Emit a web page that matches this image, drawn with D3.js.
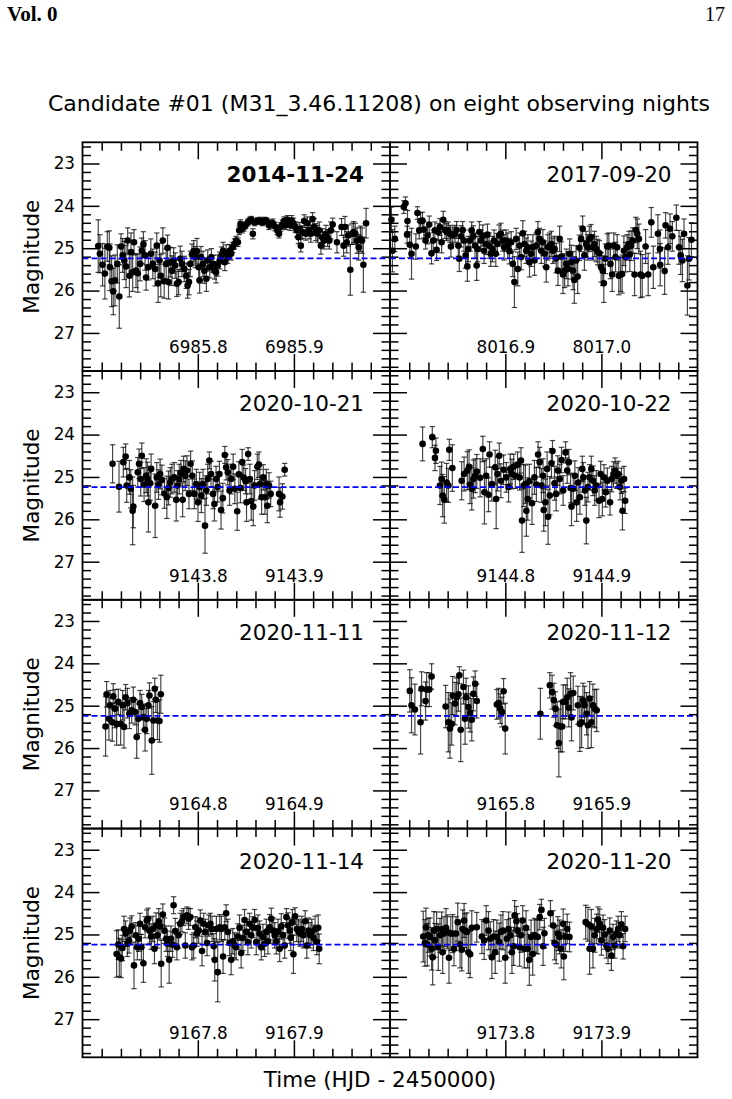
<!DOCTYPE html>
<html>
<head>
<meta charset="utf-8">
<script src="https://cdn.jsdelivr.net/npm/d3@7"></script>
<style>
  html, body { margin: 0; padding: 0; background: #fff; }
  svg { display: block; font-family: "DejaVu Sans", sans-serif; }
</style>
</head>
<body>
<script>
// Candidate #01 light curves — eight nights, 2 x 4 grid of panels.
// Each night: [days after the night's base HJD-2450000, magnitude, error]

const nightBase   = [6985, 8016, 9143, 9144, 9164, 9165, 9167, 9173];
const nightLabels = ["2014-11-24", "2017-09-20", "2020-10-21", "2020-10-22",
                     "2020-11-11", "2020-11-12", "2020-11-14", "2020-11-20"];
const nightStart  = [6985.68, 8016.78, 9143.68, 9144.68, 9164.68, 9165.68, 9167.68, 9173.68];
const nightMajor  = [[6985.8, 6985.9], [8016.9, 8017.0], [9143.8, 9143.9], [9144.8, 9144.9],
                     [9164.8, 9164.9], [9165.8, 9165.9], [9167.8, 9167.9], [9173.8, 9173.9]];
const highlightNight = 0;
const meanMag   = 25.24;
const magRange  = [22.5, 27.9];
const magMajor  = [23, 24, 25, 26, 27];
const daySpan   = 0.32;

const night1 = [
  [0.6964,24.95,0.62],[0.6981,25.13,0.45],[0.7009,25.39,0.5],[0.7033,25.60,0.6],[0.7058,24.96,0.35],[0.7079,24.99,0.4],
  [0.7086,25.45,0.55],[0.7103,25.78,0.6],[0.7120,26.02,0.55],[0.7138,25.76,0.6],[0.7162,25.37,0.45],[0.7183,26.14,0.75],
  [0.7201,24.96,0.3],[0.7218,25.17,0.4],[0.7235,25.29,0.45],[0.7253,25.43,0.5],[0.7270,24.82,0.3],[0.7288,25.65,0.5],
  [0.7305,25.09,0.45],[0.7322,25.57,0.45],[0.7336,24.86,0.3],[0.7357,25.53,0.4],[0.7375,25.59,0.45],[0.7399,25.37,0.4],
  [0.7417,25.06,0.3],[0.7434,24.91,0.3],[0.7451,25.17,0.35],[0.7462,25.69,0.3],[0.7486,25.45,0.3],[0.7511,25.13,0.35],
  [0.7532,25.37,0.35],[0.7556,25.49,0.4],[0.7573,24.94,0.3],[0.7587,25.83,0.45],[0.7601,25.29,0.4],[0.7615,25.65,0.5],
  [0.7636,24.82,0.3],[0.7650,25.78,0.4],[0.7671,25.37,0.35],[0.7685,24.99,0.3],[0.7695,25.80,0.4],[0.7713,25.33,0.35],
  [0.7730,25.53,0.35],[0.7748,25.29,0.3],[0.7765,25.41,0.3],[0.7782,25.84,0.3],[0.7800,25.80,0.3],[0.7817,25.25,0.3],
  [0.7835,25.37,0.3],[0.7859,25.49,0.3],[0.7880,25.65,0.3],[0.7894,25.88,0.3],[0.7908,25.80,0.3],[0.7922,25.37,0.3],
  [0.7939,25.15,0.25],[0.7957,25.07,0.25],[0.7974,25.21,0.25],[0.7991,25.07,0.3],[0.8009,25.45,0.3],[0.8019,25.76,0.3],
  [0.8033,25.21,0.25],[0.8054,25.37,0.3],[0.8068,25.53,0.3],[0.8089,25.72,0.3],[0.8103,25.29,0.25],[0.8124,25.45,0.25],
  [0.8141,25.21,0.2],[0.8159,25.37,0.2],[0.8173,25.53,0.2],[0.8190,25.57,0.25],[0.8207,25.41,0.25],[0.8228,25.29,0.2],
  [0.8246,25.17,0.2],[0.8263,25.06,0.2],[0.8281,25.33,0.2],[0.8295,25.12,0.2],[0.8312,25.21,0.15],[0.8330,25.06,0.15],
  [0.8347,25.13,0.15],[0.8364,24.98,0.12],[0.8382,24.90,0.12],[0.8399,24.82,0.1],[0.8417,24.86,0.1],[0.8431,24.58,0.1],
  [0.8444,24.43,0.1],[0.8462,24.54,0.1],[0.8479,24.50,0.1],[0.8497,24.46,0.08],[0.8521,24.39,0.08],[0.8542,24.35,0.08],
  [0.8556,24.33,0.08],[0.8573,24.66,0.12],[0.8591,24.39,0.08],[0.8619,24.36,0.08],[0.8646,24.35,0.08],[0.8671,24.39,0.08],
  [0.8695,24.35,0.08],[0.8716,24.36,0.08],[0.8740,24.46,0.1],[0.8758,24.43,0.1],[0.8782,24.41,0.1],[0.8803,24.49,0.1],
  [0.8828,24.58,0.1],[0.8845,24.66,0.1],[0.8862,24.50,0.1],[0.8880,24.44,0.1],[0.8897,24.36,0.1],[0.8915,24.46,0.1],
  [0.8932,24.33,0.1],[0.8960,24.46,0.12],[0.8977,24.35,0.12],[0.8995,24.41,0.12],[0.9012,24.50,0.12],[0.9030,24.58,0.15],
  [0.9047,24.74,0.15],[0.9061,24.54,0.15],[0.9072,24.94,0.15],[0.9089,24.62,0.15],[0.9107,24.36,0.15],[0.9124,24.66,0.15],
  [0.9141,24.41,0.15],[0.9159,24.58,0.2],[0.9176,24.66,0.2],[0.9194,24.31,0.15],[0.9211,24.50,0.2],[0.9228,24.62,0.2],
  [0.9246,24.66,0.2],[0.9263,24.58,0.2],[0.9281,24.94,0.2],[0.9298,24.74,0.2],[0.9315,24.82,0.2],[0.9333,24.66,0.2],
  [0.9350,24.76,0.2],[0.9368,24.82,0.2],[0.9385,24.58,0.2],[0.9403,24.44,0.15],[0.9448,24.86,0.25],[0.9496,24.50,0.2],
  [0.9517,24.94,0.25],[0.9531,24.50,0.25],[0.9549,24.86,0.25],[0.9566,24.70,0.25],[0.9587,25.51,0.6],[0.9605,24.66,0.25],
  [0.9622,24.62,0.25],[0.9639,24.66,0.25],[0.9657,24.82,0.3],[0.9674,24.98,0.3],[0.9692,24.78,0.3],[0.9709,24.82,0.3],
  [0.9723,25.39,0.65],[0.9751,24.41,0.35]
];

const night2 = [
  [0.7815,24.33,0.3],[0.7825,25.06,0.5],[0.7850,24.78,0.3],[0.7944,24.03,0.15],[0.7961,23.94,0.15],[0.7978,24.68,0.2],
  [0.7982,24.36,0.25],[0.8006,24.92,0.3],[0.8024,25.13,0.6],[0.8069,24.96,0.3],[0.8086,24.17,0.15],[0.8104,24.58,0.2],
  [0.8118,24.36,0.2],[0.8138,24.35,0.2],[0.8152,24.56,0.2],[0.8170,24.82,0.2],[0.8191,24.70,0.2],[0.8208,24.44,0.2],
  [0.8232,25.12,0.25],[0.8250,24.82,0.25],[0.8267,24.58,0.2],[0.8285,25.04,0.25],[0.8302,24.62,0.2],[0.8319,24.50,0.2],
  [0.8337,24.86,0.25],[0.8354,24.33,0.2],[0.8372,24.57,0.2],[0.8389,24.62,0.2],[0.8406,24.58,0.2],[0.8424,24.66,0.2],
  [0.8434,24.96,0.25],[0.8452,24.70,0.2],[0.8476,24.66,0.2],[0.8493,24.57,0.2],[0.8511,24.94,0.25],[0.8521,25.25,0.3],
  [0.8539,24.72,0.25],[0.8556,24.57,0.2],[0.8570,24.82,0.25],[0.8587,25.17,0.3],[0.8605,25.43,0.35],[0.8615,25.02,0.3],
  [0.8633,24.82,0.25],[0.8650,24.58,0.2],[0.8667,24.72,0.25],[0.8685,24.94,0.3],[0.8702,25.41,0.35],[0.8713,25.02,0.3],
  [0.8730,24.62,0.25],[0.8747,24.82,0.25],[0.8765,24.70,0.25],[0.8779,25.06,0.3],[0.8800,24.90,0.25],[0.8814,24.68,0.25],
  [0.8831,24.94,0.3],[0.8848,25.13,0.3],[0.8866,25.02,0.3],[0.8883,24.82,0.25],[0.8901,25.13,0.3],[0.8918,24.90,0.25],
  [0.8935,24.70,0.25],[0.8953,24.66,0.25],[0.8974,24.82,0.25],[0.8988,24.98,0.3],[0.9008,24.82,0.25],[0.9026,24.94,0.3],
  [0.9043,25.07,0.3],[0.9061,24.86,0.25],[0.9078,25.37,0.3],[0.9095,25.80,0.6],[0.9113,24.78,0.25],[0.9130,25.49,0.4],
  [0.9148,24.94,0.3],[0.9165,25.21,0.3],[0.9182,24.65,0.3],[0.9200,24.90,0.3],[0.9217,25.06,0.3],[0.9235,24.98,0.3],
  [0.9252,25.33,0.35],[0.9269,25.13,0.3],[0.9287,24.98,0.3],[0.9304,25.29,0.35],[0.9322,24.94,0.3],[0.9339,24.62,0.25],
  [0.9356,24.78,0.25],[0.9374,25.06,0.3],[0.9391,24.86,0.3],[0.9409,25.13,0.3],[0.9426,25.45,0.35],[0.9443,24.98,0.3],
  [0.9461,24.94,0.3],[0.9478,24.90,0.3],[0.9496,25.06,0.3],[0.9513,25.02,0.3],[0.9530,25.23,0.35],[0.9548,25.53,0.35],
  [0.9565,24.78,0.3],[0.9583,25.20,0.35],[0.9600,25.62,0.45],[0.9617,25.53,0.4],[0.9635,25.37,0.35],[0.9652,25.49,0.4],
  [0.9670,25.13,0.35],[0.9687,25.33,0.4],[0.9704,25.53,0.45],[0.9718,25.75,0.55],[0.9736,25.29,0.35],[0.9753,25.67,0.4],
  [0.9771,24.99,0.3],[0.9788,24.78,0.3],[0.9805,24.54,0.3],[0.9823,25.17,0.35],[0.9840,24.90,0.3],[0.9858,24.98,0.3],
  [0.9875,24.78,0.3],[0.9892,24.74,0.3],[0.9910,24.98,0.3],[0.9927,24.90,0.3],[0.9945,25.02,0.3],[0.9962,25.09,0.3],
  [0.9979,25.12,0.3],[0.9997,25.45,0.35],[1.0014,25.53,0.35],[1.0025,25.83,0.45],[1.0042,25.25,0.35],[1.0060,24.96,0.3],
  [1.0077,24.94,0.3],[1.0094,25.37,0.35],[1.0112,25.62,0.4],[1.0129,24.94,0.3],[1.0147,25.21,0.35],[1.0164,24.98,0.3],
  [1.0181,25.65,0.45],[1.0199,25.62,0.4],[1.0216,25.61,0.45],[1.0234,25.06,0.35],[1.0251,25.21,0.35],[1.0268,24.98,0.3],
  [1.0286,24.90,0.3],[1.0296,25.15,0.4],[1.0310,24.94,0.35],[1.0327,24.82,0.3],[1.0345,25.62,0.5],[1.0359,24.57,0.3],
  [1.0373,24.66,0.35],[1.0390,24.78,0.35],[1.0407,25.62,0.55],[1.0425,25.65,0.5],[1.0460,24.96,0.4],[1.0487,25.62,0.5],
  [1.0519,24.39,0.35],[1.0540,25.45,0.5],[1.0588,24.66,0.45],[1.0609,25.02,0.45],[1.0612,25.39,0.5],[1.0658,25.54,0.55],
  [1.0668,24.46,0.3],[1.0693,24.98,0.4],[1.0714,24.54,0.35],[1.0738,24.72,0.35],[1.0780,24.28,0.3],[1.0808,24.98,0.4],
  [1.0825,25.17,0.45],[1.0843,25.29,0.5],[1.0860,24.66,0.35],[1.0895,25.88,0.7],[1.0912,25.25,0.5],[1.0937,24.80,0.4]
];

const night3 = [
  [0.7113,24.69,0.45],[0.7180,25.23,0.6],[0.7225,24.65,0.35],[0.7249,24.52,0.3],[0.7260,25.20,0.4],[0.7288,25.01,0.4],
  [0.7302,25.28,0.45],[0.7322,25.80,0.8],[0.7329,25.70,0.5],[0.7375,24.89,0.35],[0.7389,24.69,0.35],[0.7406,25.05,0.4],
  [0.7417,24.50,0.3],[0.7441,25.18,0.4],[0.7462,24.97,0.4],[0.7476,25.05,0.4],[0.7486,25.60,0.7],[0.7504,25.15,0.4],
  [0.7514,24.81,0.35],[0.7556,25.68,0.75],[0.7573,25.01,0.35],[0.7591,25.18,0.35],[0.7608,24.93,0.35],[0.7626,25.07,0.35],
  [0.7653,25.39,0.35],[0.7678,25.48,0.5],[0.7695,25.26,0.4],[0.7713,25.13,0.35],[0.7730,25.05,0.35],[0.7754,25.01,0.35],
  [0.7775,25.54,0.5],[0.7789,25.20,0.35],[0.7807,25.05,0.35],[0.7824,24.91,0.3],[0.7842,25.54,0.4],[0.7852,24.81,0.3],
  [0.7870,24.97,0.35],[0.7887,24.85,0.35],[0.7908,25.40,0.35],[0.7925,24.69,0.3],[0.7943,24.97,0.35],[0.7964,25.40,0.35],
  [0.7985,25.17,0.35],[0.8002,25.60,0.45],[0.8019,25.24,0.35],[0.8037,25.44,0.4],[0.8054,25.17,0.35],[0.8075,26.15,0.65],
  [0.8089,25.32,0.35],[0.8103,25.05,0.35],[0.8120,24.61,0.2],[0.8138,24.93,0.3],[0.8159,25.40,0.35],[0.8173,25.64,0.4],
  [0.8190,25.05,0.3],[0.8207,25.24,0.35],[0.8225,24.93,0.3],[0.8242,25.78,0.45],[0.8260,25.50,0.35],[0.8281,24.48,0.2],
  [0.8295,24.77,0.3],[0.8312,24.89,0.3],[0.8330,25.32,0.35],[0.8347,25.05,0.35],[0.8368,24.76,0.3],[0.8385,25.28,0.35],
  [0.8410,25.81,0.45],[0.8427,24.94,0.3],[0.8444,25.26,0.35],[0.8462,24.65,0.3],[0.8479,25.02,0.3],[0.8497,25.10,0.3],
  [0.8507,25.60,0.45],[0.8524,24.46,0.15],[0.8542,25.05,0.35],[0.8556,25.57,0.45],[0.8577,25.70,0.45],[0.8591,25.20,0.35],
  [0.8619,24.76,0.3],[0.8636,24.71,0.3],[0.8646,25.17,0.35],[0.8664,25.48,0.4],[0.8681,25.01,0.3],[0.8699,25.48,0.4],
  [0.8713,25.17,0.35],[0.8723,25.68,0.4],[0.8741,25.20,0.3],[0.8758,25.40,0.3],[0.8845,25.40,0.4],[0.8856,25.60,0.35],
  [0.8880,25.46,0.3],[0.8904,24.83,0.15]
];

const night4 = [
  [0.7139,24.22,0.4],[0.7240,24.06,0.25],[0.7268,24.55,0.3],[0.7278,24.38,0.3],[0.7320,25.20,0.45],[0.7337,25.05,0.4],
  [0.7348,25.44,0.5],[0.7365,25.54,0.55],[0.7389,25.13,0.45],[0.7407,25.20,0.4],[0.7417,24.36,0.25],[0.7449,24.79,0.55],
  [0.7546,25.09,0.45],[0.7571,24.93,0.4],[0.7605,24.85,0.45],[0.7623,24.76,0.4],[0.7633,25.18,0.45],[0.7651,25.28,0.5],
  [0.7668,25.05,0.45],[0.7686,24.97,0.4],[0.7703,24.87,0.4],[0.7738,25.02,0.45],[0.7766,24.34,0.3],[0.7783,25.36,0.75],
  [0.7801,24.97,0.4],[0.7825,25.42,0.4],[0.7836,24.47,0.3],[0.7860,25.17,0.4],[0.7895,24.77,0.4],[0.7905,25.52,0.7],
  [0.7919,24.93,0.4],[0.7937,24.50,0.3],[0.7954,25.09,0.4],[0.7982,24.83,0.35],[0.8010,25.01,0.35],[0.8034,25.24,0.35],
  [0.8052,24.81,0.35],[0.8069,24.93,0.35],[0.8087,24.76,0.3],[0.8104,24.97,0.3],[0.8128,24.71,0.3],[0.8149,25.01,0.3],
  [0.8163,24.61,0.3],[0.8174,26.03,0.75],[0.8191,25.20,0.5],[0.8209,25.17,0.45],[0.8219,25.80,0.6],[0.8233,25.52,0.5],
  [0.8250,25.10,0.4],[0.8278,25.62,0.5],[0.8303,25.01,0.4],[0.8323,25.18,0.4],[0.8341,24.47,0.3],[0.8358,24.65,0.35],
  [0.8376,25.20,0.4],[0.8393,24.97,0.4],[0.8400,25.78,0.5],[0.8417,25.60,0.55],[0.8435,24.81,0.4],[0.8445,25.94,0.65],
  [0.8463,25.44,0.45],[0.8480,24.68,0.35],[0.8491,24.39,0.25],[0.8512,25.15,0.4],[0.8529,25.40,0.4],[0.8546,24.85,0.35],
  [0.8567,25.05,0.35],[0.8585,24.60,0.3],[0.8602,25.32,0.35],[0.8627,24.42,0.25],[0.8644,24.85,0.3],[0.8661,24.65,0.3],
  [0.8679,25.26,0.35],[0.8689,25.70,0.45],[0.8707,25.28,0.35],[0.8724,24.97,0.35],[0.8742,25.60,0.45],[0.8759,25.13,0.35],
  [0.8776,25.48,0.4],[0.8801,24.81,0.3],[0.8811,25.01,0.35],[0.8829,25.32,0.35],[0.8843,26.03,0.55],[0.8860,25.24,0.35],
  [0.8877,25.01,0.3],[0.8895,24.81,0.3],[0.8912,25.09,0.35],[0.8930,25.32,0.35],[0.8947,25.20,0.35],[0.8975,25.56,0.4],
  [0.8992,24.93,0.3],[0.9010,25.52,0.4],[0.9027,25.01,0.3],[0.9045,25.36,0.35],[0.9062,25.09,0.3],[0.9090,25.60,0.3],
  [0.9107,25.05,0.3],[0.9125,24.94,0.3],[0.9142,24.85,0.3],[0.9160,24.97,0.3],[0.9174,24.93,0.3],[0.9194,25.24,0.3],
  [0.9208,25.09,0.3],[0.9219,25.80,0.45],[0.9236,25.05,0.3],[0.9247,25.56,0.3]
];

const night5 = [
  [0.7040,25.49,0.7],[0.7051,24.73,0.3],[0.7075,25.31,0.5],[0.7086,24.99,0.35],[0.7110,25.39,0.45],[0.7120,24.78,0.3],
  [0.7138,25.07,0.45],[0.7155,25.43,0.5],[0.7173,24.91,0.3],[0.7197,25.43,0.5],[0.7218,24.99,0.35],[0.7232,25.50,0.5],
  [0.7249,24.80,0.3],[0.7267,24.94,0.35],[0.7288,25.19,0.35],[0.7312,25.11,0.3],[0.7329,24.86,0.3],[0.7347,25.15,0.3],
  [0.7364,25.74,0.5],[0.7382,25.31,0.35],[0.7399,24.94,0.3],[0.7417,25.03,0.3],[0.7434,25.27,0.3],[0.7451,25.57,0.5],
  [0.7469,25.31,0.35],[0.7486,24.99,0.35],[0.7497,24.76,0.3],[0.7521,25.82,0.8],[0.7538,25.35,0.45],[0.7552,24.60,0.25],
  [0.7563,24.86,0.3],[0.7580,25.35,0.45],[0.7601,25.36,0.5],[0.7615,24.73,0.45]
];

const night6 = [
  [0.7006,24.65,0.5],[0.7024,24.99,0.65],[0.7059,25.09,0.6],[0.7118,25.39,0.75],[0.7129,24.60,0.4],[0.7170,24.89,0.45],
  [0.7181,24.62,0.4],[0.7209,24.62,0.4],[0.7233,24.31,0.3],[0.7379,25.02,0.5],[0.7407,25.39,0.7],[0.7424,25.54,0.7],
  [0.7442,25.43,0.5],[0.7452,24.76,0.45],[0.7477,24.95,0.5],[0.7494,24.80,0.45],[0.7512,24.73,0.4],[0.7522,24.28,0.2],
  [0.7536,25.57,0.75],[0.7564,24.56,0.4],[0.7581,25.31,0.6],[0.7592,24.80,0.45],[0.7616,25.03,0.5],[0.7634,25.17,0.45],
  [0.7651,25.33,0.5],[0.7668,24.72,0.4],[0.7686,24.48,0.3],[0.7703,24.89,0.4],[0.7912,24.97,0.35],[0.7930,24.94,0.35],
  [0.7947,25.07,0.35],[0.7965,25.15,0.35],[0.7982,24.66,0.3],[0.7999,25.54,0.6],[0.8365,25.19,0.6],[0.8463,24.52,0.3],
  [0.8487,24.68,0.4],[0.8505,24.87,0.4],[0.8522,25.07,0.4],[0.8539,25.46,0.55],[0.8557,25.88,0.8],[0.8574,25.49,0.6],
  [0.8592,25.49,0.6],[0.8602,24.91,0.4],[0.8627,24.91,0.4],[0.8644,24.80,0.45],[0.8661,25.05,0.45],[0.8679,24.72,0.5],
  [0.8689,25.28,0.55],[0.8707,24.70,0.4],[0.8755,24.99,0.45],[0.8776,25.43,0.65],[0.8794,25.39,0.6],[0.8808,24.87,0.4],
  [0.8825,24.99,0.45],[0.8846,25.19,0.5],[0.8860,25.46,0.55],[0.8877,24.83,0.4],[0.8895,25.39,0.6],[0.8912,24.99,0.5],
  [0.8930,25.07,0.45],[0.8951,25.11,0.5]
];

const night7 = [
  [0.7155,25.46,0.55],[0.7173,25.24,0.35],[0.7183,25.54,0.45],[0.7201,25.57,0.45],[0.7215,25.32,0.3],[0.7232,24.87,0.3],
  [0.7249,24.98,0.3],[0.7267,25.22,0.3],[0.7284,25.14,0.3],[0.7295,24.91,0.3],[0.7312,24.81,0.25],[0.7336,25.73,0.55],
  [0.7354,25.02,0.3],[0.7371,25.30,0.3],[0.7385,25.10,0.3],[0.7399,24.75,0.25],[0.7413,25.30,0.3],[0.7434,25.68,0.45],
  [0.7451,24.83,0.25],[0.7469,24.67,0.25],[0.7483,24.63,0.25],[0.7497,24.91,0.3],[0.7514,25.05,0.3],[0.7532,24.87,0.3],
  [0.7549,25.34,0.35],[0.7566,24.79,0.3],[0.7580,25.02,0.3],[0.7594,24.69,0.3],[0.7608,24.81,0.3],[0.7619,25.69,0.55],
  [0.7636,24.53,0.25],[0.7653,24.91,0.3],[0.7671,25.10,0.3],[0.7685,25.22,0.3],[0.7702,25.60,0.55],[0.7720,25.10,0.3],
  [0.7737,25.24,0.3],[0.7748,24.31,0.2],[0.7765,24.92,0.3],[0.7782,25.30,0.3],[0.7800,25.02,0.3],[0.7817,24.75,0.25],
  [0.7835,24.69,0.25],[0.7852,24.59,0.2],[0.7870,25.26,0.3],[0.7887,24.55,0.2],[0.7904,24.63,0.25],[0.7922,24.59,0.2],
  [0.7939,25.30,0.3],[0.7957,25.26,0.3],[0.7974,24.83,0.25],[0.7991,24.98,0.3],[0.8009,24.91,0.3],[0.8026,24.67,0.25],
  [0.8044,25.39,0.35],[0.8061,24.75,0.25],[0.8078,24.94,0.3],[0.8096,25.20,0.3],[0.8113,24.79,0.25],[0.8131,24.75,0.25],
  [0.8148,24.87,0.3],[0.8166,25.28,0.3],[0.8176,25.60,0.5],[0.8193,24.87,0.3],[0.8207,25.89,0.7],[0.8228,24.83,0.3],
  [0.8246,24.87,0.3],[0.8263,25.52,0.4],[0.8281,24.83,0.3],[0.8295,24.50,0.2],[0.8312,24.94,0.3],[0.8330,25.20,0.3],
  [0.8347,25.60,0.35],[0.8364,25.16,0.3],[0.8382,25.26,0.3],[0.8399,25.30,0.3],[0.8417,25.05,0.3],[0.8434,24.84,0.3],
  [0.8451,25.44,0.35],[0.8469,25.08,0.3],[0.8486,24.66,0.25],[0.8504,24.94,0.3],[0.8521,25.18,0.3],[0.8538,24.75,0.25],
  [0.8556,25.02,0.3],[0.8573,24.83,0.25],[0.8591,24.66,0.25],[0.8608,25.18,0.3],[0.8626,24.84,0.3],[0.8643,24.98,0.3],
  [0.8660,25.30,0.3],[0.8678,25.06,0.3],[0.8695,25.22,0.3],[0.8713,24.94,0.3],[0.8730,25.16,0.3],[0.8747,24.83,0.3],
  [0.8765,24.63,0.25],[0.8782,24.91,0.3],[0.8800,25.02,0.3],[0.8817,25.16,0.3],[0.8835,24.94,0.3],[0.8852,25.34,0.3],
  [0.8869,24.81,0.3],[0.8887,25.02,0.3],[0.8904,25.26,0.3],[0.8922,24.59,0.2],[0.8939,24.79,0.3],[0.8956,24.91,0.3],
  [0.8967,25.08,0.3],[0.8984,24.71,0.3],[0.8995,25.47,0.45],[0.9012,24.57,0.2],[0.9030,24.87,0.3],[0.9047,24.94,0.3],
  [0.9065,24.98,0.3],[0.9082,24.87,0.3],[0.9099,25.02,0.3],[0.9117,24.69,0.25],[0.9134,25.26,0.3],[0.9152,24.91,0.3],
  [0.9169,25.02,0.3],[0.9186,24.94,0.3],[0.9204,25.08,0.3],[0.9221,24.87,0.3],[0.9239,25.18,0.3],[0.9253,24.84,0.3],
  [0.9263,25.34,0.35]
];

const night8 = [
  [0.7146,25.05,0.6],[0.7163,25.20,0.55],[0.7174,24.83,0.45],[0.7188,25.24,0.5],[0.7198,25.02,0.4],[0.7216,25.06,0.45],
  [0.7233,25.34,0.5],[0.7244,25.54,0.65],[0.7257,24.91,0.45],[0.7268,25.14,0.4],[0.7285,24.87,0.4],[0.7303,25.30,0.55],
  [0.7320,25.02,0.4],[0.7338,24.87,0.4],[0.7348,25.42,0.5],[0.7362,24.98,0.4],[0.7383,24.84,0.45],[0.7397,24.94,0.4],
  [0.7414,25.55,0.6],[0.7432,24.98,0.4],[0.7452,24.98,0.45],[0.7466,25.34,0.4],[0.7487,24.98,0.4],[0.7505,24.71,0.45],
  [0.7529,25.24,0.55],[0.7547,25.36,0.5],[0.7557,24.87,0.45],[0.7571,24.67,0.4],[0.7581,24.91,0.4],[0.7599,24.94,0.45],
  [0.7616,25.42,0.5],[0.7634,25.47,0.55],[0.7651,24.84,0.4],[0.7703,24.83,0.35],[0.7756,25.05,0.4],[0.7780,25.14,0.45],
  [0.7801,24.67,0.35],[0.7825,24.91,0.45],[0.7843,25.10,0.4],[0.7860,25.54,0.5],[0.7878,25.05,0.4],[0.7895,25.42,0.5],
  [0.7912,25.06,0.4],[0.7937,25.18,0.45],[0.7954,24.94,0.4],[0.7975,24.91,0.45],[0.7999,25.55,0.6],[0.8017,25.10,0.45],
  [0.8034,24.87,0.4],[0.8052,25.02,0.4],[0.8069,25.42,0.5],[0.8087,25.28,0.45],[0.8097,24.55,0.35],[0.8115,24.69,0.35],
  [0.8128,24.91,0.4],[0.8149,25.30,0.45],[0.8163,25.02,0.4],[0.8181,24.67,0.35],[0.8198,25.34,0.45],[0.8216,24.84,0.4],
  [0.8233,25.34,0.45],[0.8250,25.60,0.6],[0.8268,25.06,0.4],[0.8285,25.46,0.5],[0.8303,25.02,0.4],[0.8320,25.05,0.4],
  [0.8338,25.06,0.4],[0.8358,24.59,0.3],[0.8376,24.42,0.25],[0.8393,25.28,0.45],[0.8407,24.97,0.35],[0.8470,24.50,0.3],
  [0.8498,24.79,0.35],[0.8512,25.20,0.4],[0.8529,25.24,0.45],[0.8547,24.98,0.4],[0.8564,25.06,0.4],[0.8581,25.34,0.45],
  [0.8602,24.75,0.35],[0.8609,25.52,0.55],[0.8627,25.05,0.35],[0.8644,24.87,0.35],[0.8668,25.06,0.35],[0.8836,24.71,0.4],
  [0.8860,24.76,0.4],[0.8877,25.34,0.6],[0.8895,24.81,0.4],[0.8912,25.34,0.45],[0.8930,25.02,0.4],[0.8951,24.87,0.35],
  [0.8965,24.65,0.3],[0.8982,24.75,0.35],[0.9000,25.14,0.35],[0.9017,24.84,0.3],[0.9034,25.00,0.35],[0.9052,25.26,0.3],
  [0.9069,25.34,0.35],[0.9087,24.91,0.3],[0.9104,25.50,0.35],[0.9121,25.06,0.3],[0.9139,25.26,0.3],[0.9156,24.98,0.3],
  [0.9174,24.87,0.3],[0.9191,25.02,0.3],[0.9208,24.76,0.3],[0.9226,25.28,0.3],[0.9247,24.87,0.3]
];

const nights = [night1, night2, night3, night4, night5, night6, night7, night8];

// ---- layout ------------------------------------------------------------
const W = 732, H = 1099;
const gridLeft = 82.5, gridTop = 142.3;
const panelW = 307.5, panelH = 228.75;
const majorLen = 17, minorLen = 8.5;

const svg = d3.select("body").append("svg")
  .attr("width", W).attr("height", H)
  .attr("viewBox", `0 0 ${W} ${H}`);

svg.append("rect").attr("width", W).attr("height", H).attr("fill", "#fff");

// Journal running header
svg.append("text")
  .attr("x", 7).attr("y", 21)
  .attr("font-family", "'Liberation Serif', 'Times New Roman', serif")
  .attr("font-weight", "bold").attr("font-size", 21)
  .text("Vol. 0");
svg.append("text")
  .attr("x", 725).attr("y", 21).attr("text-anchor", "end")
  .attr("font-family", "'Liberation Serif', 'Times New Roman', serif")
  .attr("font-size", 20)
  .text("17");

// Title
svg.append("text")
  .attr("x", 379).attr("y", 111)
  .attr("text-anchor", "middle").attr("font-size", 22)
  .text("Candidate #01 (M31_3.46.11208) on eight observing nights");

// x axis label
svg.append("text")
  .attr("x", 380).attr("y", 1087)
  .attr("text-anchor", "middle").attr("font-size", 21.5)
  .text("Time (HJD - 2450000)");

const magMinor = d3.range(22.6, 27.9, 0.2).map(v => +v.toFixed(1)).filter(v => !magMajor.includes(v));

function tickGroup(g, axis, tr) {
  const a = g.append("g").attr("transform", tr).call(axis);
  a.select(".domain").remove();
  a.selectAll("line").attr("stroke", "#000").attr("stroke-width", 1.5);
  a.selectAll("text").attr("font-family", "DejaVu Sans").attr("font-size", 16.8).attr("fill", "#000");
  return a;
}

nights.forEach((pts, i) => {
  const col = i % 2, row = Math.floor(i / 2);
  const x0 = gridLeft + col * panelW, y0 = gridTop + row * panelH;
  const base = nightBase[i];

  const x = d3.scaleLinear().domain([nightStart[i], nightStart[i] + daySpan]).range([x0, x0 + panelW]);
  const y = d3.scaleLinear().domain(magRange).range([y0, y0 + panelH]);

  const g = svg.append("g").attr("class", "panel");

  const dayMinor = d3.range(1, 16).map(k => +(nightStart[i] + k * 0.02).toFixed(2))
    .filter(v => !nightMajor[i].some(m => Math.abs(m - v) < 1e-6));

  // ticks, all pointing inward
  tickGroup(g, d3.axisBottom(x).tickValues(dayMinor).tickSize(-minorLen).tickFormat(""), `translate(0,${y0 + panelH})`);
  tickGroup(g, d3.axisTop(x).tickValues(dayMinor).tickSize(-minorLen).tickFormat(""), `translate(0,${y0})`);
  tickGroup(g, d3.axisTop(x).tickValues(nightMajor[i]).tickSize(-majorLen).tickFormat(""), `translate(0,${y0})`);
  const xb = tickGroup(g, d3.axisBottom(x).tickValues(nightMajor[i]).tickSize(-majorLen)
      .tickPadding(-30).tickFormat(d3.format(".1f")), `translate(0,${y0 + panelH})`);
  xb.selectAll("text").attr("dy", "0.71em");

  tickGroup(g, d3.axisLeft(y).tickValues(magMinor).tickSize(-minorLen).tickFormat(""), `translate(${x0},0)`);
  tickGroup(g, d3.axisRight(y).tickValues(magMinor).tickSize(-minorLen).tickFormat(""), `translate(${x0 + panelW},0)`);
  tickGroup(g, d3.axisRight(y).tickValues(magMajor).tickSize(-majorLen).tickFormat(""), `translate(${x0 + panelW},0)`);
  tickGroup(g, d3.axisLeft(y).tickValues(magMajor).tickSize(-majorLen).tickPadding(7.5)
      .tickFormat(col === 0 ? d3.format("d") : ""), `translate(${x0},0)`);

  // error bars
  const eb = g.append("g").attr("stroke", "#000").attr("stroke-opacity", 0.72).attr("stroke-width", 1.2);
  pts.forEach(([t, m, e]) => {
    const px = x(base + t);
    eb.append("line").attr("x1", px).attr("x2", px).attr("y1", y(m - e)).attr("y2", y(m + e));
    eb.append("line").attr("x1", px - 2.7).attr("x2", px + 2.7).attr("y1", y(m - e)).attr("y2", y(m - e));
    eb.append("line").attr("x1", px - 2.7).attr("x2", px + 2.7).attr("y1", y(m + e)).attr("y2", y(m + e));
  });

  // points
  g.append("g").selectAll("circle").data(pts).join("circle")
    .attr("cx", d => x(base + d[0])).attr("cy", d => y(d[1]))
    .attr("r", 3.3).attr("fill", "#000");

  // mean magnitude
  g.append("line")
    .attr("x1", x0).attr("x2", x0 + panelW)
    .attr("y1", y(meanMag)).attr("y2", y(meanMag))
    .attr("stroke", "#0000ff").attr("stroke-width", 1.6).attr("stroke-dasharray", "6,3");

  // frame
  g.append("rect")
    .attr("x", x0).attr("y", y0).attr("width", panelW).attr("height", panelH)
    .attr("fill", "none").attr("stroke", "#000").attr("stroke-width", 1.8);

  // night label
  g.append("text")
    .attr("x", x0 + panelW - 26).attr("y", y0 + 40)
    .attr("text-anchor", "end").attr("font-size", 21.5)
    .attr("font-weight", i === highlightNight ? "bold" : "normal")
    .text(nightLabels[i]);

  // y label per row
  if (col === 0) {
    svg.append("text")
      .attr("transform", `translate(39,${y0 + panelH / 2}) rotate(-90)`)
      .attr("text-anchor", "middle").attr("font-size", 21.5)
      .text("Magnitude");
  }
});
</script>
</body>
</html>
